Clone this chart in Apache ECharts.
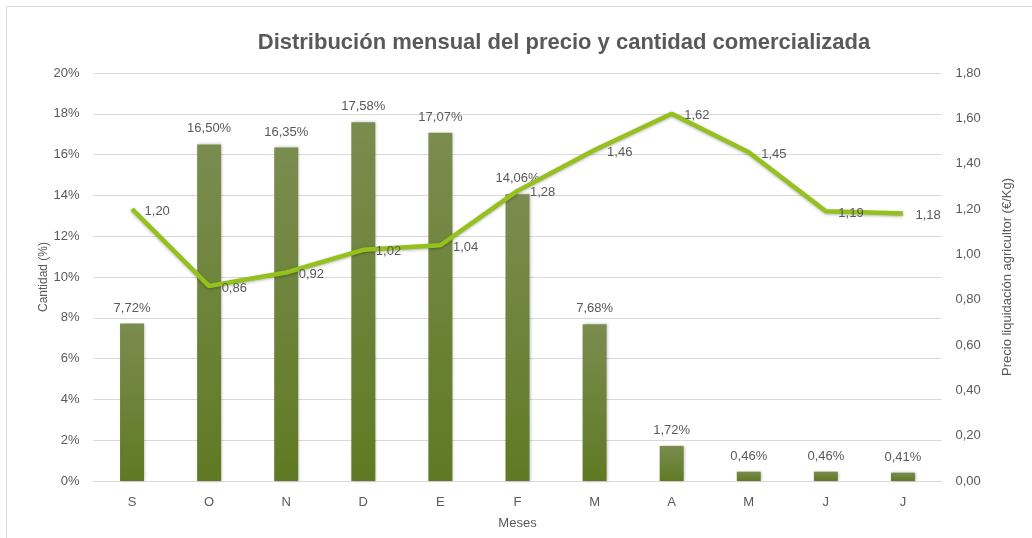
<!DOCTYPE html>
<html><head><meta charset="utf-8">
<script src="https://cdn.jsdelivr.net/npm/echarts@6/dist/echarts.min.js"></script>
<style>html,body{margin:0;padding:0;background:#fff}#c{width:1032px;height:538px}</style>
</head><body><div id="c"></div>
<script>
const categories = ['S','O','N','D','E','F','M','A','M','J','J'];
const cantidad = [7.72, 16.50, 16.35, 17.58, 17.07, 14.06, 7.68, 1.72, 0.46, 0.46, 0.41];
const precio = [1.20, 0.86, 0.92, 1.02, 1.04, 1.28, 1.46, 1.62, 1.45, 1.19, 1.18];
const leftTicks = {min: 0, max: 20, interval: 2};
const rightTicks = {min: 0, max: 1.8, interval: 0.2};

const font = '"Liberation Sans", "DejaVu Sans", sans-serif';
const txt = '#595959';
const chart = echarts.init(document.getElementById('c'), null, {renderer: 'canvas'});
chart.setOption({
  animation: false,
  textStyle: {fontFamily: font},
  graphic: [{type: 'rect', shape: {x: 6.5, y: 6.5, width: 1040, height: 560}, style: {fill: 'none', stroke: '#d9d9d9', lineWidth: 1}, silent: true}],
  title: {text: 'Distribución mensual del precio y cantidad comercializada', left: 559, textAlign: 'center', top: 27,
    textStyle: {fontFamily: font, fontSize: 22, fontWeight: 'bold', color: txt}},
  grid: {left: 93.5, right: 1032 - 941.5, top: 73, bottom: 538 - 481},
  xAxis: {type: 'category', data: categories, name: 'Meses', nameLocation: 'middle', nameGap: 36,
    nameTextStyle: {color: txt, fontSize: 13, fontFamily: font},
    axisLine: {lineStyle: {color: '#d9d9d9'}}, axisTick: {show: false},
    axisLabel: {color: txt, fontSize: 13, margin: 15}},
  yAxis: [
    {type: 'value', min: leftTicks.min, max: leftTicks.max, interval: leftTicks.interval,
      name: 'Cantidad (%)', nameLocation: 'middle', nameGap: 50, nameRotate: 90, nameMoveOverlap: false,
      nameTextStyle: {color: txt, fontSize: 12, fontFamily: font, verticalAlign: 'middle'},
      axisLabel: {color: txt, fontSize: 13, margin: 14, formatter: v => v + '%'},
      splitLine: {lineStyle: {color: '#d9d9d9'}}, axisLine: {show: false}, axisTick: {show: false}},
    {type: 'value', min: rightTicks.min, max: rightTicks.max, interval: rightTicks.interval,
      name: 'Precio liquidación agricultor (€/Kg)', nameLocation: 'middle', nameGap: 66, nameRotate: 90, nameMoveOverlap: false,
      nameTextStyle: {color: txt, fontSize: 13, fontFamily: font, verticalAlign: 'middle'},
      axisLabel: {color: txt, fontSize: 13, margin: 14, formatter: v => v.toFixed(2).replace('.', ',')},
      splitLine: {show: false}, axisLine: {show: false}, axisTick: {show: false}}
  ],
  series: [
    {type: 'bar', data: cantidad, yAxisIndex: 0, barWidth: 24,
      itemStyle: {color: new echarts.graphic.LinearGradient(0, 0, 0, 1, [{offset: 0, color: '#7b8c4f'}, {offset: 1, color: '#5f7a23'}]),
        shadowColor: 'rgba(0,0,0,0.25)', shadowBlur: 3, shadowOffsetX: 1},
      label: {show: true, position: 'top', distance: 9, color: txt, fontSize: 13,
        formatter: p => p.value.toFixed(2).replace('.', ',') + '%'}},
    {type: 'line', data: precio, yAxisIndex: 1, symbol: 'circle', symbolSize: 1, showSymbol: true, z: 5,
      itemStyle: {color: 'rgba(0,0,0,0)'},
      lineStyle: {color: '#94c11c', width: 4.5, shadowColor: 'rgba(0,0,0,0.3)', shadowBlur: 3, shadowOffsetY: 1},
      label: {show: true, position: 'right', distance: 12, offset: [0, 2], color: txt, fontSize: 13,
        formatter: p => p.value.toFixed(2).replace('.', ',')}}
  ]
});
</script></body></html>
